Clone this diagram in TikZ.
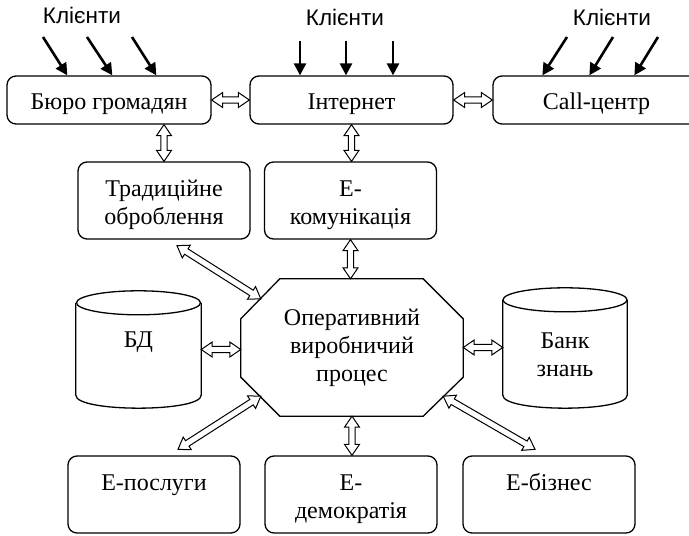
\documentclass[tikz,border=0pt]{standalone}
\usepackage{fontspec}
\setmainfont{Liberation Serif}
\newfontfamily\clientfont{Liberation Sans}
\usetikzlibrary{calc,arrows.meta}
% tall strut for the first line of a box, sets its text a little lower
\newcommand\bst{\rule[-8.4pt]{0pt}{36pt}}
\begin{document}
\begin{tikzpicture}[x=1pt,y=-1pt,
  every node/.style={font=\fontsize{24}{28}\selectfont, inner sep=0pt},
  box/.style={draw, line width=1.3pt, rounded corners=9pt, align=center},
  wide/.style={minimum width=204pt, minimum height=48pt},
  mid/.style={minimum width=172pt, minimum height=77pt},
  outline/.style={line width=1.3pt},
  client/.style={line width=2.6pt, -{Triangle[length=12pt,width=12pt]}},
  clabel/.style={font=\clientfont\fontsize{22.5}{27}\selectfont},
  harrow/.style={draw, line width=1pt, fill=white, line join=miter,
    to path={let \p1=(\tikztostart), \p2=(\tikztotarget),
      \n1={atan2(\y2-\y1,\x2-\x1)} in
      (\p1) -- ($(\p1)+({\n1}:11pt)+({\n1+90}:7.5pt)$)
            -- ($(\p1)+({\n1}:11pt)+({\n1+90}:3.2pt)$)
            -- ($(\p2)+({\n1+180}:11pt)+({\n1+90}:3.2pt)$)
            -- ($(\p2)+({\n1+180}:11pt)+({\n1+90}:7.5pt)$)
            -- (\p2)
            -- ($(\p2)+({\n1+180}:11pt)+({\n1-90}:7.5pt)$)
            -- ($(\p2)+({\n1+180}:11pt)+({\n1-90}:3.2pt)$)
            -- ($(\p1)+({\n1}:11pt)+({\n1-90}:3.2pt)$)
            -- ($(\p1)+({\n1}:11pt)+({\n1-90}:7.5pt)$) -- cycle}}
]
\useasboundingbox (0,0) rectangle (689,536);
\clip (0,0) rectangle (689,536);

% top row
\node[box, wide] (b1) at (109,100) {\bst Бюро громадян};
\node[box, minimum width=203pt, minimum height=48pt] (b2) at (351.5,100) {\bst Інтернет};
\node[box, minimum width=207pt, minimum height=48pt] (b3) at (596.5,100) {\bst Call-центр};

% clients
\node[clabel] (cl1) at (82,15) {Клієнти};
\node[clabel] (cl2) at (345,17) {Клієнти};
\node[clabel] (cl3) at (612,17) {Клієнти};

\coordinate (s11) at (43,37);  \coordinate (s12) at (87,37);  \coordinate (s13) at (132,37);
\coordinate (s21) at (300,41); \coordinate (s22) at (346,41); \coordinate (s23) at (393,41);
\coordinate (s31) at (567,37); \coordinate (s32) at (613,37); \coordinate (s33) at (658,37);

\draw[client] (s11) -- ([xshift=61pt]b1.north west);
\draw[client] (s12) -- ([xshift=106pt]b1.north west);
\draw[client] (s13) -- ([xshift=150pt]b1.north west);
\draw[client] (s21) -- (s21 |- b2.north);
\draw[client] (s22) -- (s22 |- b2.north);
\draw[client] (s23) -- (s23 |- b2.north);
\draw[client] (s31) -- ([xshift=50pt]b3.north west);
\draw[client] (s32) -- ([xshift=97pt]b3.north west);
\draw[client] (s33) -- ([xshift=142pt]b3.north west);

% second row
\node[box, mid] (t1) at (164,200.5) {\bst Традиційне\\оброблення\strut};
\node[box, mid] (e1) at (350.5,200.5) {\bst Е-\\комунікація\strut};

% central process
\node[minimum width=222pt, minimum height=137pt, align=center] (op) at (352,347.5)
  {Оперативний\strut\\виробничий\strut\\процес\strut};
\draw[outline] ($(op.north west)+(39,0)$) -- ($(op.north east)+(-40,0)$)
  -- ($(op.north east)+(0,40)$) -- ($(op.south east)+(0,-39)$)
  -- ($(op.south east)+(-40,0)$) -- ($(op.south west)+(39,0)$)
  -- ($(op.south west)+(0,-39)$) -- ($(op.north west)+(0,40)$) -- cycle;
\coordinate (onw) at ($(op.north west)+(20,20)$);
\coordinate (osw) at ($(op.south west)+(20,-20)$);
\coordinate (ose) at ($(op.south east)+(-20,-20)$);

% storages
\node[minimum width=125pt, minimum height=117pt] (db) at (138.5,349.5) {};
\node[minimum width=124pt, minimum height=120pt] (kb) at (565,348) {};
\foreach \c in {db,kb}{
  \draw[outline] ($(\c.north)+(0,12)$) ellipse[x radius=62pt, y radius=12pt];
  \draw[outline] ($(\c.north west)+(0,12)$) -- ($(\c.south west)+(0,-13)$)
    .. controls ($(\c.south west)+(0,4.3)$) and ($(\c.south east)+(0,4.3)$)
    .. ($(\c.south east)+(0,-13)$) -- ($(\c.north east)+(0,12)$);
}
\node (dbl) at (138.5,342) {БД};
\node[align=center] (kbl) at (565,355) {Банк\\знань};

% bottom row
\node[box, mid] (p1) at (154,494.5) {\bst Е-послуги\\\strut};
\node[box, mid] (d1) at (351,494.5) {\bst Е-\\демократія\strut};
\node[box, mid] (bz) at (549,494.5) {\bst Е-бізнес\\\strut};

% links
\draw[harrow] (b1.east) to (b2.west);
\draw[harrow] (b2.east) to (b3.west);
\draw[harrow] (t1.north |- b1.south) to (t1.north);
\draw[harrow] (b2.south) to (b2.south |- e1.north);
\draw[harrow] (e1.south) to (e1.south |- op.north);
\draw[harrow] ([shift={(13,6)}]t1.south) to (onw);
\draw[harrow] (db.east) to (db.east -| op.west);
\draw[harrow] (op.east) to (op.east -| kb.west);
\draw[harrow] ([shift={(24,-6)}]p1.north) to (osw);
\draw[harrow] (op.south) to (op.south |- d1.north);
\draw[harrow] ([shift={(-14,-6)}]bz.north) to (ose);
\end{tikzpicture}
\end{document}
